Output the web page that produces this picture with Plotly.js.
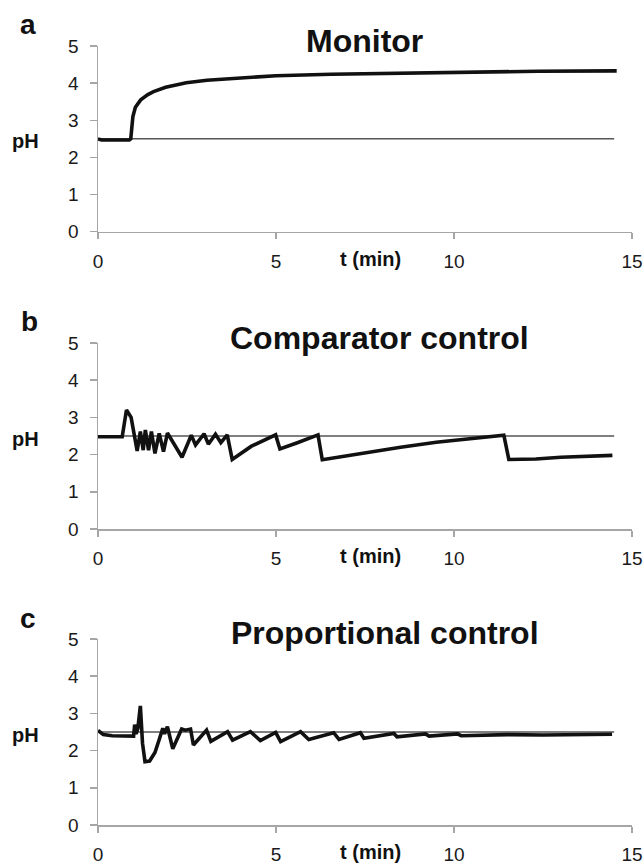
<!DOCTYPE html>
<html>
<head>
<meta charset="utf-8">
<script src="https://cdn.plot.ly/plotly-3.0.1.min.js"></script>
<style>html,body{margin:0;padding:0;background:#fff;}#chart{width:644px;height:866px;}</style>
</head>
<body>
<div id="chart"></div>
<script>
// ---- Data ----
const panelTitles = ["Monitor", "Comparator control", "Proportional control"];
const panelLetters = ["a", "b", "c"];
const xTickVals = [0, 5, 10, 15];
const yTickVals = [0, 1, 2, 3, 4, 5];

const setpointT = [0, 14.5];
const setpointPH = [2.5, 2.5];

// a: Monitor
const monitorT  = [0, 0.1, 0.5, 0.88, 0.92, 0.95, 0.98, 1.05, 1.2, 1.4, 1.56, 1.9, 2.48, 3.06, 3.76, 5, 6.55, 8.87, 10, 12.36, 14.57];
const monitorPH = [2.5, 2.47, 2.47, 2.47, 2.5, 2.75, 3.1, 3.35, 3.55, 3.69, 3.77, 3.89, 4.01, 4.08, 4.13, 4.2, 4.24, 4.28, 4.3, 4.32, 4.33];

// b: Comparator control
const compT  = [0, 0.68, 0.80, 0.93, 1.10, 1.19, 1.27, 1.33, 1.42, 1.50, 1.60, 1.72, 1.84, 1.95, 2.36, 2.62, 2.74, 2.98, 3.10, 3.30, 3.45, 3.63, 3.77, 4.3, 4.99, 5.11, 5.6, 6.18, 6.30, 7.5, 8.5, 9.5, 10.5, 11.40, 11.54, 12.3, 13.0, 13.8, 14.45];
const compPH = [2.48, 2.48, 3.2, 3.0, 2.1, 2.62, 2.12, 2.66, 2.12, 2.62, 2.03, 2.57, 2.08, 2.58, 1.93, 2.52, 2.26, 2.56, 2.28, 2.55, 2.32, 2.53, 1.87, 2.22, 2.53, 2.15, 2.32, 2.53, 1.86, 2.05, 2.2, 2.33, 2.44, 2.52, 1.87, 1.88, 1.93, 1.95, 1.98];

// c: Proportional control
const propT  = [0, 0.15, 0.4, 1.0, 1.03, 1.07, 1.12, 1.19, 1.25, 1.32, 1.45, 1.6, 1.72, 1.82, 1.87, 1.95, 2.1, 2.35, 2.45, 2.6, 2.68, 3.05, 3.17, 3.64, 3.78, 4.28, 4.56, 4.99, 5.13, 5.69, 5.92, 6.62, 6.77, 7.37, 7.47, 8.31, 8.4, 9.2, 9.3, 10.1, 10.2, 11.5, 12.5, 13.5, 14.44];
const propPH = [2.54, 2.43, 2.4, 2.39, 2.7, 2.45, 2.6, 3.2, 2.2, 1.7, 1.72, 1.95, 2.3, 2.6, 2.45, 2.64, 2.05, 2.58, 2.55, 2.58, 2.15, 2.55, 2.25, 2.51, 2.28, 2.51, 2.27, 2.49, 2.24, 2.51, 2.3, 2.48, 2.3, 2.48, 2.33, 2.46, 2.37, 2.45, 2.39, 2.45, 2.4, 2.43, 2.42, 2.43, 2.44];

const seriesT = [monitorT, compT, propT];
const seriesPH = [monitorPH, compPH, propPH];

// ---- Layout ----
const FONT = "Liberation Sans, Arial, Helvetica, sans-serif";
const W = 644, H = 866, ML = 98, MR = 12, MT = 46, MB = 41;
const PW = W - ML - MR, PH = H - MT - MB;
const px = v => (v - ML) / PW;          // pixel x -> paper
const py = v => (H - MB - v) / PH;      // pixel y -> paper
const domains = [[py(231.7), 1], [py(529), py(343)], [0, py(639)]];
const titlePos = [[364, 41], [379, 338], [385, 633]];
const letterPos = [[28, 24], [29, 321], [28, 618]];
const phPos = [[25, 141], [25, 439], [25, 735]];
const axColor = "#a6a6a6";

const traces = [];
const layout = {
  width: W, height: H,
  margin: {l: ML, r: MR, t: MT, b: MB},
  paper_bgcolor: "#fff", plot_bgcolor: "#fff",
  showlegend: false,
  font: {family: FONT, size: 19, color: "#1a1a1a"},
  annotations: []
};

for (let i = 0; i < 3; i++) {
  const sfx = i === 0 ? "" : String(i + 1);
  const xa = "x" + sfx, ya = "y" + sfx;
  traces.push({
    x: setpointT, y: setpointPH, xaxis: xa, yaxis: ya,
    type: "scatter", mode: "lines",
    line: {color: "#000", width: 1}, hoverinfo: "skip"
  });
  traces.push({
    x: seriesT[i], y: seriesPH[i], xaxis: xa, yaxis: ya,
    type: "scatter", mode: "lines", cliponaxis: false,
    line: {color: "#111", width: 3.6, shape: "linear"}, hoverinfo: "skip"
  });
  layout["xaxis" + sfx] = {
    domain: [0, 1], anchor: ya, range: [0, 15],
    tickmode: "array", tickvals: xTickVals,
    showline: true, linecolor: axColor, linewidth: 1.5,
    ticks: "outside", ticklen: 6, tickcolor: axColor, tickwidth: 1.5,
    ticklabelstandoff: 6,
    showgrid: false, zeroline: false,
    tickfont: {family: FONT, size: 19, color: "#1a1a1a"}
  };
  layout["yaxis" + sfx] = {
    domain: domains[i], anchor: xa, range: [0, 5],
    tickmode: "array", tickvals: yTickVals,
    showline: true, linecolor: axColor, linewidth: 1.5,
    ticks: "outside", ticklen: 7, tickcolor: axColor, tickwidth: 1.5,
    ticklabelstandoff: 7,
    showgrid: false, zeroline: false,
    tickfont: {family: FONT, size: 19, color: "#1a1a1a"}
  };
  layout.annotations.push(
    {text: "<b>" + panelTitles[i] + "</b>", xref: "paper", yref: "paper",
     x: px(titlePos[i][0]), y: py(titlePos[i][1]),
     xanchor: "center", yanchor: "middle", showarrow: false,
     font: {family: FONT, size: 32, color: "#111"}},
    {text: "<b>" + panelLetters[i] + "</b>", xref: "paper", yref: "paper",
     x: px(letterPos[i][0]), y: py(letterPos[i][1]),
     xanchor: "center", yanchor: "middle", showarrow: false,
     font: {family: FONT, size: 28, color: "#111"}},
    {text: "<b>pH</b>", xref: "paper", yref: "paper",
     x: px(phPos[i][0]), y: py(phPos[i][1]),
     xanchor: "center", yanchor: "middle", showarrow: false,
     font: {family: FONT, size: 20, color: "#111"}},
    {text: "<b>t (min)</b>", xref: xa, yref: ya, x: 7.65, y: 0, yshift: -27,
     xanchor: "center", yanchor: "middle", showarrow: false,
     font: {family: FONT, size: 20, color: "#111"}}
  );
}

Plotly.newPlot("chart", traces, layout, {staticPlot: true, displayModeBar: false});
</script>
</body>
</html>
